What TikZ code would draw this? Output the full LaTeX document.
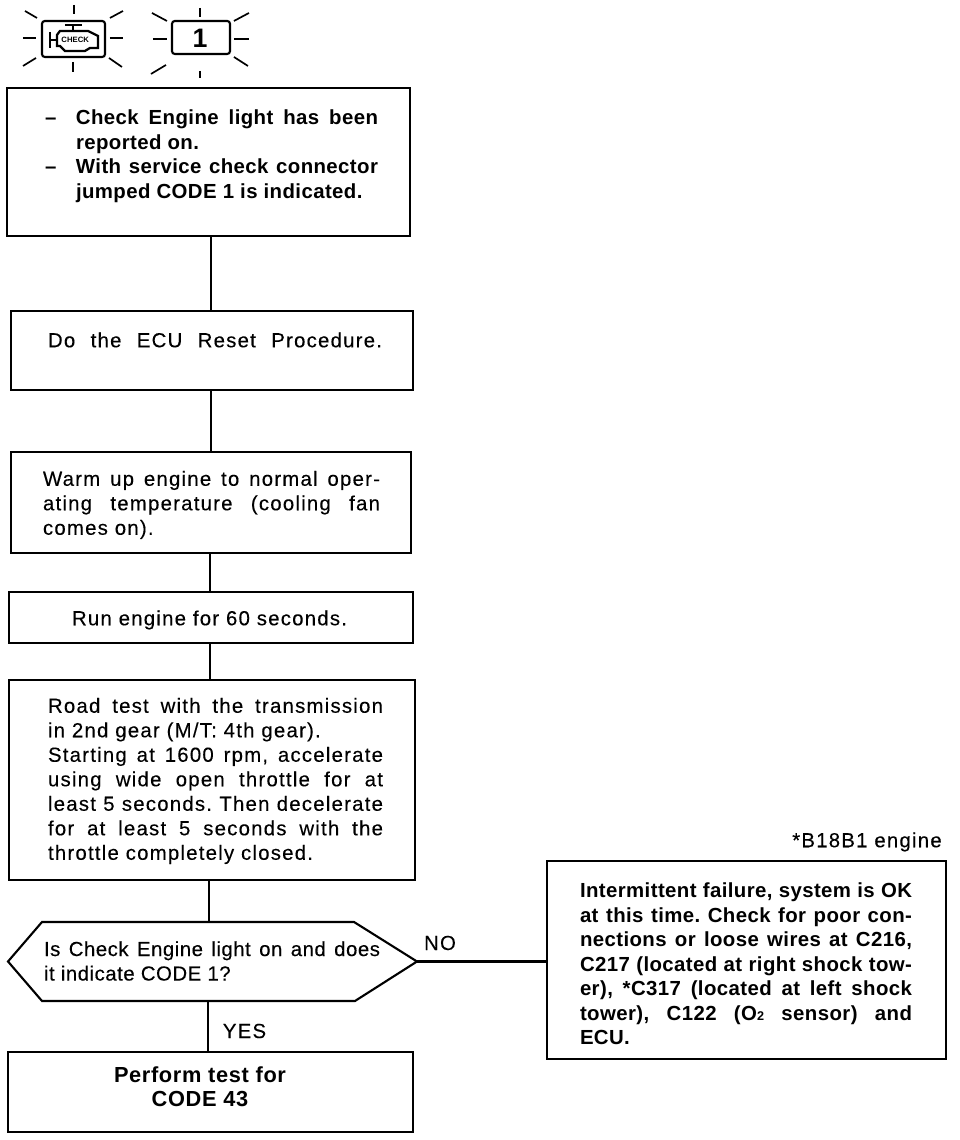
\documentclass[tikz,border=0pt]{standalone}
\usepackage{fontspec}
\setmainfont{Liberation Sans}
\frenchspacing
\newcommand{\fitline}[2]{\makebox[#1][s]{#2}}
\tikzset{
	stepbox/.style={shape=rectangle, draw, line width=1.5pt},
	plaintext/.style={anchor=center, align=left, inner sep=0pt, font=\fontsize{14.5}{17.43}\selectfont\addfontfeatures{LetterSpace=6,FakeBold=0.2}},
	asktype/.style={plaintext, font=\fontsize{14.5}{17.43}\selectfont\addfontfeatures{LetterSpace=2.5,FakeBold=0.2}},
	boldtext/.style={anchor=center, align=left, inner sep=0pt, font=\fontsize{14.5}{17.43}\selectfont\bfseries\addfontfeatures{LetterSpace=2}},
	wire/.style={line width=1.5pt},
	lamp/.style={shape=rectangle, draw, rounded corners=2pt, line width=1.5pt},
}
\begin{document}
\begin{tikzpicture}
	\useasboundingbox (0,0) rectangle (24,28.5);
	% Lamps over the chart:
	\node[lamp, minimum width=1.575cm, minimum height=0.9cm] (lampcheck) at (1.8375, 27.525){};
	\node[lamp, minimum width=1.45cm, minimum height=0.825cm] (lampone) at (5.025, 27.5625){};
	\node[inner sep=0pt, font=\fontsize{19}{19}\selectfont\bfseries] (lampdigit) at (5.0, 27.55){1};
	\node[inner sep=0pt, font=\fontsize{5.5}{6}\selectfont\bfseries] (lampword) at (1.88, 27.5){CHECK};
	\begin{scope}[shift={(0,28.5)}, x=0.025cm, y=-0.025cm]
		\foreach \xa/\ya/\xb/\yb in {74/5/74/14, 73/62/73/72, 23/38/36/38, 110/38/123/38, 25/11/37/18, 110/18/123/11, 23/66/36/58, 109/58/122/67, 200/8/200/17, 200/71/200/78, 153/39/167/39, 234/39/249/39, 152/13/167/21, 234/21/249/13, 151/74/166/65, 234/57/248/66}
			\draw[line width=1.2pt] (\xa,\ya) -- (\xb,\yb);
		\draw[line width=1.6pt] (50,32) -- (50,48) (50,40) -- (57,40) (65,25) -- (82,25) (73,25) -- (73,31);
		\draw[line width=1.6pt] (57,35) -- (60,31) -- (88,31) -- (98,36) -- (98,48) -- (90,48) -- (85,51) -- (65,51) -- (60,46) -- (57,46) -- cycle;
	\end{scope}
	% Boxes and their texts:
	\node[stepbox, minimum width=10.075cm, minimum height=3.7cm] (checkbox) at (5.2125, 24.45){};
	\node[boldtext] (checktext) at (5.2875, 24.6){%
		\fitline{8.325cm}{\makebox[0.775cm][l]{--}Check Engine light has been}\\
		\hspace*{0.775cm}reported on.\\
		\fitline{8.325cm}{\makebox[0.775cm][l]{--}With service check connector}\\
		\hspace*{0.775cm}jumped CODE 1 is indicated.};
	\node[stepbox, minimum width=10.05cm, minimum height=1.975cm] (resetbox) at (5.3, 19.7375){};
	\node[plaintext] (resettext) at (5.375, 20){\fitline{8.35cm}{Do the ECU Reset Procedure.}};
	\node[stepbox, minimum width=10cm, minimum height=2.525cm] (warmbox) at (5.275, 15.9375){};
	\node[plaintext] (warmtext) at (5.2875, 15.875){%
		\fitline{8.425cm}{Warm up engine to normal oper-}\\
		\fitline{8.425cm}{ating temperature (cooling fan}\\
		comes on).};
	\node[stepbox, minimum width=10.1cm, minimum height=1.275cm] (runbox) at (5.275, 13.0625){};
	\node[plaintext] (runtext) at (5.2375, 13){Run engine for 60 seconds.};
	\node[stepbox, minimum width=10.15cm, minimum height=5cm] (roadbox) at (5.3, 9){};
	\node[plaintext] (roadtext) at (5.3875, 8.975){%
		\fitline{8.375cm}{Road test with the transmission}\\
		in 2nd gear (M/T: 4th gear).\\
		\fitline{8.375cm}{Starting at 1600 rpm, accelerate}\\
		\fitline{8.375cm}{using wide open throttle for at}\\
		\fitline{8.375cm}{least 5 seconds. Then decelerate}\\
		\fitline{8.375cm}{for at least 5 seconds with the}\\
		throttle completely closed.};
	\node[stepbox, minimum width=10.125cm, minimum height=2cm] (testbox) at (5.2625, 1.2){};
	\node[boldtext, align=center, font=\fontsize{15.5}{17.43}\selectfont\bfseries\addfontfeatures{LetterSpace=3}] (testtext) at (5, 1.3375){Perform test for\\CODE 43};
	\node[stepbox, minimum width=9.975cm, minimum height=4.95cm] (infobox) at (18.6625, 4.5){};
	\node[boldtext] (infotext) at (18.65, 4.4){%
		\fitline{8.3cm}{Intermittent failure, system is OK}\\
		\fitline{8.3cm}{at this time. Check for poor con-}\\
		\fitline{8.3cm}{nections or loose wires at C216,}\\
		\fitline{8.3cm}{C217 (located at right shock tow-}\\
		\fitline{8.3cm}{er), *C317 (located at left shock}\\
		\fitline{8.3cm}{tower), C122 (O{\fontsize{9}{9}\selectfont 2} sensor) and}\\
		ECU.};
	\node[plaintext, anchor=east] (enginenote) at (23.55, 7.45){*B18B1 engine};
	% Decision:
	\coordinate (askleft) at (0.2, 4.4625);
	\coordinate (askright) at (10.425, 4.4625);
	\coordinate (asktop) at (5.225, 5.45);
	\coordinate (askbottom) at (5.2, 3.475);
	\draw[wire] (askleft) -- (1.05, 5.45) -- (8.85, 5.45) -- (askright) -- (8.875, 3.475) -- (1.05, 3.475) -- cycle;
	\node[asktype] (asktext) at (5.3, 4.475){%
		\fitline{8.4cm}{Is Check Engine light on and does}\\
		it indicate CODE 1?};
	\node[plaintext] (nolabel) at (11, 4.925){NO};
	\node[plaintext] (yeslabel) at (6.1125, 2.725){YES};
	% Wires:
	\coordinate (spinea) at (5.275, 0);
	\coordinate (spineb) at (5.25, 0);
	\draw[wire] (checkbox.south -| spinea) -- (resetbox.north -| spinea);
	\draw[wire] (resetbox.south -| spinea) -- (warmbox.north -| spinea);
	\draw[wire] (warmbox.south -| spineb) -- (runbox.north -| spineb);
	\draw[wire] (runbox.south -| spineb) -- (roadbox.north -| spineb);
	\draw[wire] (roadbox.south -| asktop) -- (asktop);
	\draw[wire] (askbottom) -- (testbox.north -| askbottom);
	\draw[wire] (askright) -- (askright -| infobox.west);
\end{tikzpicture}
\end{document}
